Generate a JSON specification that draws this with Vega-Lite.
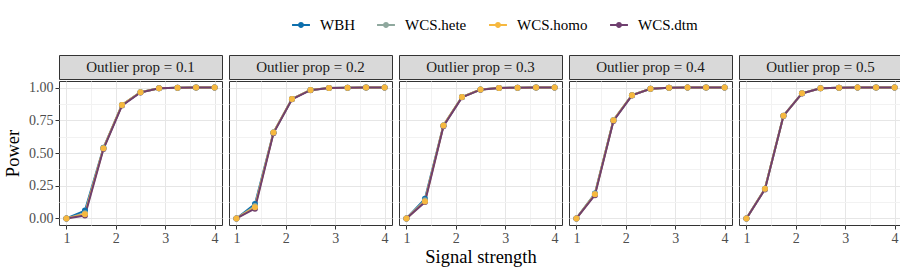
{
"$schema":"https://vega.github.io/schema/vega-lite/v6.json",
"padding":{"left":3,"top":16,"right":4,"bottom":4},
"background":"white",
"datasets":{
"strips":[{"prop":0.1,"label":"Outlier prop = 0.1"},{"prop":0.2,"label":"Outlier prop = 0.2"},{"prop":0.3,"label":"Outlier prop = 0.3"},{"prop":0.4,"label":"Outlier prop = 0.4"},{"prop":0.5,"label":"Outlier prop = 0.5"}],
"d":[
{"prop":0.1,"method":"WBH","signal":1,"power":0.0},{"prop":0.1,"method":"WBH","signal":1.375,"power":0.06},{"prop":0.1,"method":"WBH","signal":1.75,"power":0.54},{"prop":0.1,"method":"WBH","signal":2.125,"power":0.867},{"prop":0.1,"method":"WBH","signal":2.5,"power":0.964},{"prop":0.1,"method":"WBH","signal":2.875,"power":0.995},{"prop":0.1,"method":"WBH","signal":3.25,"power":0.998},{"prop":0.1,"method":"WBH","signal":3.625,"power":1.0},{"prop":0.1,"method":"WBH","signal":4,"power":1.0},
{"prop":0.1,"method":"WCS.hete","signal":1,"power":0.0},{"prop":0.1,"method":"WCS.hete","signal":1.375,"power":0.04},{"prop":0.1,"method":"WCS.hete","signal":1.75,"power":0.536},{"prop":0.1,"method":"WCS.hete","signal":2.125,"power":0.867},{"prop":0.1,"method":"WCS.hete","signal":2.5,"power":0.964},{"prop":0.1,"method":"WCS.hete","signal":2.875,"power":0.995},{"prop":0.1,"method":"WCS.hete","signal":3.25,"power":0.998},{"prop":0.1,"method":"WCS.hete","signal":3.625,"power":1.0},{"prop":0.1,"method":"WCS.hete","signal":4,"power":1.0},
{"prop":0.1,"method":"WCS.homo","signal":1,"power":0.0},{"prop":0.1,"method":"WCS.homo","signal":1.375,"power":0.033},{"prop":0.1,"method":"WCS.homo","signal":1.75,"power":0.536},{"prop":0.1,"method":"WCS.homo","signal":2.125,"power":0.867},{"prop":0.1,"method":"WCS.homo","signal":2.5,"power":0.964},{"prop":0.1,"method":"WCS.homo","signal":2.875,"power":0.995},{"prop":0.1,"method":"WCS.homo","signal":3.25,"power":0.998},{"prop":0.1,"method":"WCS.homo","signal":3.625,"power":1.0},{"prop":0.1,"method":"WCS.homo","signal":4,"power":1.0},
{"prop":0.1,"method":"WCS.dtm","signal":1,"power":0.0},{"prop":0.1,"method":"WCS.dtm","signal":1.375,"power":0.022},{"prop":0.1,"method":"WCS.dtm","signal":1.75,"power":0.53},{"prop":0.1,"method":"WCS.dtm","signal":2.125,"power":0.862},{"prop":0.1,"method":"WCS.dtm","signal":2.5,"power":0.962},{"prop":0.1,"method":"WCS.dtm","signal":2.875,"power":0.994},{"prop":0.1,"method":"WCS.dtm","signal":3.25,"power":0.998},{"prop":0.1,"method":"WCS.dtm","signal":3.625,"power":1.0},{"prop":0.1,"method":"WCS.dtm","signal":4,"power":1.0},
{"prop":0.2,"method":"WBH","signal":1,"power":0.0},{"prop":0.2,"method":"WBH","signal":1.375,"power":0.11},{"prop":0.2,"method":"WBH","signal":1.75,"power":0.656},{"prop":0.2,"method":"WBH","signal":2.125,"power":0.913},{"prop":0.2,"method":"WBH","signal":2.5,"power":0.982},{"prop":0.2,"method":"WBH","signal":2.875,"power":0.996},{"prop":0.2,"method":"WBH","signal":3.25,"power":0.999},{"prop":0.2,"method":"WBH","signal":3.625,"power":1.0},{"prop":0.2,"method":"WBH","signal":4,"power":1.0},
{"prop":0.2,"method":"WCS.hete","signal":1,"power":0.0},{"prop":0.2,"method":"WCS.hete","signal":1.375,"power":0.095},{"prop":0.2,"method":"WCS.hete","signal":1.75,"power":0.656},{"prop":0.2,"method":"WCS.hete","signal":2.125,"power":0.913},{"prop":0.2,"method":"WCS.hete","signal":2.5,"power":0.982},{"prop":0.2,"method":"WCS.hete","signal":2.875,"power":0.996},{"prop":0.2,"method":"WCS.hete","signal":3.25,"power":0.999},{"prop":0.2,"method":"WCS.hete","signal":3.625,"power":1.0},{"prop":0.2,"method":"WCS.hete","signal":4,"power":1.0},
{"prop":0.2,"method":"WCS.homo","signal":1,"power":0.0},{"prop":0.2,"method":"WCS.homo","signal":1.375,"power":0.085},{"prop":0.2,"method":"WCS.homo","signal":1.75,"power":0.656},{"prop":0.2,"method":"WCS.homo","signal":2.125,"power":0.913},{"prop":0.2,"method":"WCS.homo","signal":2.5,"power":0.982},{"prop":0.2,"method":"WCS.homo","signal":2.875,"power":0.996},{"prop":0.2,"method":"WCS.homo","signal":3.25,"power":0.999},{"prop":0.2,"method":"WCS.homo","signal":3.625,"power":1.0},{"prop":0.2,"method":"WCS.homo","signal":4,"power":1.0},
{"prop":0.2,"method":"WCS.dtm","signal":1,"power":0.0},{"prop":0.2,"method":"WCS.dtm","signal":1.375,"power":0.075},{"prop":0.2,"method":"WCS.dtm","signal":1.75,"power":0.65},{"prop":0.2,"method":"WCS.dtm","signal":2.125,"power":0.91},{"prop":0.2,"method":"WCS.dtm","signal":2.5,"power":0.98},{"prop":0.2,"method":"WCS.dtm","signal":2.875,"power":0.996},{"prop":0.2,"method":"WCS.dtm","signal":3.25,"power":0.999},{"prop":0.2,"method":"WCS.dtm","signal":3.625,"power":1.0},{"prop":0.2,"method":"WCS.dtm","signal":4,"power":1.0},
{"prop":0.3,"method":"WBH","signal":1,"power":0.0},{"prop":0.3,"method":"WBH","signal":1.375,"power":0.15},{"prop":0.3,"method":"WBH","signal":1.75,"power":0.71},{"prop":0.3,"method":"WBH","signal":2.125,"power":0.928},{"prop":0.3,"method":"WBH","signal":2.5,"power":0.985},{"prop":0.3,"method":"WBH","signal":2.875,"power":0.997},{"prop":0.3,"method":"WBH","signal":3.25,"power":0.999},{"prop":0.3,"method":"WBH","signal":3.625,"power":1.0},{"prop":0.3,"method":"WBH","signal":4,"power":1.0},
{"prop":0.3,"method":"WCS.hete","signal":1,"power":0.0},{"prop":0.3,"method":"WCS.hete","signal":1.375,"power":0.14},{"prop":0.3,"method":"WCS.hete","signal":1.75,"power":0.71},{"prop":0.3,"method":"WCS.hete","signal":2.125,"power":0.928},{"prop":0.3,"method":"WCS.hete","signal":2.5,"power":0.985},{"prop":0.3,"method":"WCS.hete","signal":2.875,"power":0.997},{"prop":0.3,"method":"WCS.hete","signal":3.25,"power":0.999},{"prop":0.3,"method":"WCS.hete","signal":3.625,"power":1.0},{"prop":0.3,"method":"WCS.hete","signal":4,"power":1.0},
{"prop":0.3,"method":"WCS.homo","signal":1,"power":0.0},{"prop":0.3,"method":"WCS.homo","signal":1.375,"power":0.13},{"prop":0.3,"method":"WCS.homo","signal":1.75,"power":0.71},{"prop":0.3,"method":"WCS.homo","signal":2.125,"power":0.928},{"prop":0.3,"method":"WCS.homo","signal":2.5,"power":0.985},{"prop":0.3,"method":"WCS.homo","signal":2.875,"power":0.997},{"prop":0.3,"method":"WCS.homo","signal":3.25,"power":0.999},{"prop":0.3,"method":"WCS.homo","signal":3.625,"power":1.0},{"prop":0.3,"method":"WCS.homo","signal":4,"power":1.0},
{"prop":0.3,"method":"WCS.dtm","signal":1,"power":0.0},{"prop":0.3,"method":"WCS.dtm","signal":1.375,"power":0.125},{"prop":0.3,"method":"WCS.dtm","signal":1.75,"power":0.705},{"prop":0.3,"method":"WCS.dtm","signal":2.125,"power":0.925},{"prop":0.3,"method":"WCS.dtm","signal":2.5,"power":0.984},{"prop":0.3,"method":"WCS.dtm","signal":2.875,"power":0.997},{"prop":0.3,"method":"WCS.dtm","signal":3.25,"power":0.999},{"prop":0.3,"method":"WCS.dtm","signal":3.625,"power":1.0},{"prop":0.3,"method":"WCS.dtm","signal":4,"power":1.0},
{"prop":0.4,"method":"WBH","signal":1,"power":0.0},{"prop":0.4,"method":"WBH","signal":1.375,"power":0.19},{"prop":0.4,"method":"WBH","signal":1.75,"power":0.75},{"prop":0.4,"method":"WBH","signal":2.125,"power":0.942},{"prop":0.4,"method":"WBH","signal":2.5,"power":0.99},{"prop":0.4,"method":"WBH","signal":2.875,"power":0.998},{"prop":0.4,"method":"WBH","signal":3.25,"power":1.0},{"prop":0.4,"method":"WBH","signal":3.625,"power":1.0},{"prop":0.4,"method":"WBH","signal":4,"power":1.0},
{"prop":0.4,"method":"WCS.hete","signal":1,"power":0.0},{"prop":0.4,"method":"WCS.hete","signal":1.375,"power":0.188},{"prop":0.4,"method":"WCS.hete","signal":1.75,"power":0.75},{"prop":0.4,"method":"WCS.hete","signal":2.125,"power":0.942},{"prop":0.4,"method":"WCS.hete","signal":2.5,"power":0.99},{"prop":0.4,"method":"WCS.hete","signal":2.875,"power":0.998},{"prop":0.4,"method":"WCS.hete","signal":3.25,"power":1.0},{"prop":0.4,"method":"WCS.hete","signal":3.625,"power":1.0},{"prop":0.4,"method":"WCS.hete","signal":4,"power":1.0},
{"prop":0.4,"method":"WCS.homo","signal":1,"power":0.0},{"prop":0.4,"method":"WCS.homo","signal":1.375,"power":0.185},{"prop":0.4,"method":"WCS.homo","signal":1.75,"power":0.75},{"prop":0.4,"method":"WCS.homo","signal":2.125,"power":0.942},{"prop":0.4,"method":"WCS.homo","signal":2.5,"power":0.99},{"prop":0.4,"method":"WCS.homo","signal":2.875,"power":0.998},{"prop":0.4,"method":"WCS.homo","signal":3.25,"power":1.0},{"prop":0.4,"method":"WCS.homo","signal":3.625,"power":1.0},{"prop":0.4,"method":"WCS.homo","signal":4,"power":1.0},
{"prop":0.4,"method":"WCS.dtm","signal":1,"power":0.0},{"prop":0.4,"method":"WCS.dtm","signal":1.375,"power":0.178},{"prop":0.4,"method":"WCS.dtm","signal":1.75,"power":0.745},{"prop":0.4,"method":"WCS.dtm","signal":2.125,"power":0.94},{"prop":0.4,"method":"WCS.dtm","signal":2.5,"power":0.99},{"prop":0.4,"method":"WCS.dtm","signal":2.875,"power":0.998},{"prop":0.4,"method":"WCS.dtm","signal":3.25,"power":1.0},{"prop":0.4,"method":"WCS.dtm","signal":3.625,"power":1.0},{"prop":0.4,"method":"WCS.dtm","signal":4,"power":1.0},
{"prop":0.5,"method":"WBH","signal":1,"power":0.0},{"prop":0.5,"method":"WBH","signal":1.375,"power":0.226},{"prop":0.5,"method":"WBH","signal":1.75,"power":0.785},{"prop":0.5,"method":"WBH","signal":2.125,"power":0.956},{"prop":0.5,"method":"WBH","signal":2.5,"power":0.995},{"prop":0.5,"method":"WBH","signal":2.875,"power":0.999},{"prop":0.5,"method":"WBH","signal":3.25,"power":1.0},{"prop":0.5,"method":"WBH","signal":3.625,"power":1.0},{"prop":0.5,"method":"WBH","signal":4,"power":1.0},
{"prop":0.5,"method":"WCS.hete","signal":1,"power":0.0},{"prop":0.5,"method":"WCS.hete","signal":1.375,"power":0.226},{"prop":0.5,"method":"WCS.hete","signal":1.75,"power":0.785},{"prop":0.5,"method":"WCS.hete","signal":2.125,"power":0.956},{"prop":0.5,"method":"WCS.hete","signal":2.5,"power":0.995},{"prop":0.5,"method":"WCS.hete","signal":2.875,"power":0.999},{"prop":0.5,"method":"WCS.hete","signal":3.25,"power":1.0},{"prop":0.5,"method":"WCS.hete","signal":3.625,"power":1.0},{"prop":0.5,"method":"WCS.hete","signal":4,"power":1.0},
{"prop":0.5,"method":"WCS.homo","signal":1,"power":0.0},{"prop":0.5,"method":"WCS.homo","signal":1.375,"power":0.226},{"prop":0.5,"method":"WCS.homo","signal":1.75,"power":0.785},{"prop":0.5,"method":"WCS.homo","signal":2.125,"power":0.956},{"prop":0.5,"method":"WCS.homo","signal":2.5,"power":0.995},{"prop":0.5,"method":"WCS.homo","signal":2.875,"power":0.999},{"prop":0.5,"method":"WCS.homo","signal":3.25,"power":1.0},{"prop":0.5,"method":"WCS.homo","signal":3.625,"power":1.0},{"prop":0.5,"method":"WCS.homo","signal":4,"power":1.0},
{"prop":0.5,"method":"WCS.dtm","signal":1,"power":0.0},{"prop":0.5,"method":"WCS.dtm","signal":1.375,"power":0.222},{"prop":0.5,"method":"WCS.dtm","signal":1.75,"power":0.783},{"prop":0.5,"method":"WCS.dtm","signal":2.125,"power":0.955},{"prop":0.5,"method":"WCS.dtm","signal":2.5,"power":0.995},{"prop":0.5,"method":"WCS.dtm","signal":2.875,"power":0.999},{"prop":0.5,"method":"WCS.dtm","signal":3.25,"power":1.0},{"prop":0.5,"method":"WCS.dtm","signal":3.625,"power":1.0},{"prop":0.5,"method":"WCS.dtm","signal":4,"power":1.0}
]},
"spacing":5,
"hconcat":[
{"spacing":0,"vconcat":[
 {"width":163,"height":24,"data":{"name":"strips"},"transform":[{"filter":"datum.prop == 0.1"}],"view":{"fill":"#d9d9d9","stroke":"#333333","strokeWidth":1},"mark":{"type":"text","font":"Liberation Serif","fontSize":15,"color":"#1a1a1a","baseline":"middle"},"encoding":{"text":{"field":"label"}}},
 {"width":163,"height":144,"data":{"name":"d"},"transform":[{"filter":"datum.prop == 0.1"}],
  "encoding":{
   "x":{"field":"signal","type":"quantitative","scale":{"domain":[0.85,4.15],"nice":false,"zero":false},"axis":{"title":null}},
   "y":{"field":"power","type":"quantitative","scale":{"domain":[-0.05,1.05],"nice":false,"zero":false},"axis":{"title":"Power","values":[0,0.125,0.25,0.375,0.5,0.625,0.75,0.875,1],"labelExpr":"(datum.value*4) % 1 == 0 ? format(datum.value,'.2f') : ''","tickSize":{"condition":{"test":"(datum.value*4) % 1 == 0","value":4},"value":0},"gridColor":{"condition":{"test":"(datum.value*4) % 1 == 0","value":"#e6e6e6"},"value":"#f2f2f2"}}},
   "color":{"field":"method","type":"nominal","scale":{"domain":["WBH","WCS.hete","WCS.homo","WCS.dtm"],"range":["#0d6fad","#8fa89e","#f6b83f","#6f3f6f"]}}},
  "layer":[
   {"mark":{"type":"line","strokeWidth":2}},
   {"mark":{"type":"point","filled":true,"size":36,"opacity":1},"encoding":{"order":{"field":"method","sort":"ascending"}}}
  ]}
]},
{"spacing":0,"vconcat":[
 {"width":163,"height":24,"data":{"name":"strips"},"transform":[{"filter":"datum.prop == 0.2"}],"view":{"fill":"#d9d9d9","stroke":"#333333","strokeWidth":1},"mark":{"type":"text","font":"Liberation Serif","fontSize":15,"color":"#1a1a1a","baseline":"middle"},"encoding":{"text":{"field":"label"}}},
 {"width":163,"height":144,"data":{"name":"d"},"transform":[{"filter":"datum.prop == 0.2"}],
  "encoding":{
   "x":{"field":"signal","type":"quantitative","scale":{"domain":[0.85,4.15],"nice":false,"zero":false},"axis":{"title":null}},
   "y":{"field":"power","type":"quantitative","scale":{"domain":[-0.05,1.05],"nice":false,"zero":false},"axis":{"title":null,"labels":false,"ticks":false,"values":[0,0.125,0.25,0.375,0.5,0.625,0.75,0.875,1],"gridColor":{"condition":{"test":"(datum.value*4) % 1 == 0","value":"#e6e6e6"},"value":"#f2f2f2"}}},
   "color":{"field":"method","type":"nominal","scale":{"domain":["WBH","WCS.hete","WCS.homo","WCS.dtm"],"range":["#0d6fad","#8fa89e","#f6b83f","#6f3f6f"]}}},
  "layer":[
   {"mark":{"type":"line","strokeWidth":2}},
   {"mark":{"type":"point","filled":true,"size":36,"opacity":1},"encoding":{"order":{"field":"method","sort":"ascending"}}}
  ]}
]},
{"spacing":0,"vconcat":[
 {"width":163,"height":24,"data":{"name":"strips"},"transform":[{"filter":"datum.prop == 0.3"}],"view":{"fill":"#d9d9d9","stroke":"#333333","strokeWidth":1},"mark":{"type":"text","font":"Liberation Serif","fontSize":15,"color":"#1a1a1a","baseline":"middle"},"encoding":{"text":{"field":"label"}}},
 {"width":163,"height":144,"data":{"name":"d"},"transform":[{"filter":"datum.prop == 0.3"}],
  "encoding":{
   "x":{"field":"signal","type":"quantitative","scale":{"domain":[0.85,4.15],"nice":false,"zero":false},"axis":{"title":"Signal strength"}},
   "y":{"field":"power","type":"quantitative","scale":{"domain":[-0.05,1.05],"nice":false,"zero":false},"axis":{"title":null,"labels":false,"ticks":false,"values":[0,0.125,0.25,0.375,0.5,0.625,0.75,0.875,1],"gridColor":{"condition":{"test":"(datum.value*4) % 1 == 0","value":"#e6e6e6"},"value":"#f2f2f2"}}},
   "color":{"field":"method","type":"nominal","scale":{"domain":["WBH","WCS.hete","WCS.homo","WCS.dtm"],"range":["#0d6fad","#8fa89e","#f6b83f","#6f3f6f"]}}},
  "layer":[
   {"mark":{"type":"line","strokeWidth":2}},
   {"mark":{"type":"point","filled":true,"size":36,"opacity":1},"encoding":{"order":{"field":"method","sort":"ascending"}}}
  ]}
]},
{"spacing":0,"vconcat":[
 {"width":163,"height":24,"data":{"name":"strips"},"transform":[{"filter":"datum.prop == 0.4"}],"view":{"fill":"#d9d9d9","stroke":"#333333","strokeWidth":1},"mark":{"type":"text","font":"Liberation Serif","fontSize":15,"color":"#1a1a1a","baseline":"middle"},"encoding":{"text":{"field":"label"}}},
 {"width":163,"height":144,"data":{"name":"d"},"transform":[{"filter":"datum.prop == 0.4"}],
  "encoding":{
   "x":{"field":"signal","type":"quantitative","scale":{"domain":[0.85,4.15],"nice":false,"zero":false},"axis":{"title":null}},
   "y":{"field":"power","type":"quantitative","scale":{"domain":[-0.05,1.05],"nice":false,"zero":false},"axis":{"title":null,"labels":false,"ticks":false,"values":[0,0.125,0.25,0.375,0.5,0.625,0.75,0.875,1],"gridColor":{"condition":{"test":"(datum.value*4) % 1 == 0","value":"#e6e6e6"},"value":"#f2f2f2"}}},
   "color":{"field":"method","type":"nominal","scale":{"domain":["WBH","WCS.hete","WCS.homo","WCS.dtm"],"range":["#0d6fad","#8fa89e","#f6b83f","#6f3f6f"]}}},
  "layer":[
   {"mark":{"type":"line","strokeWidth":2}},
   {"mark":{"type":"point","filled":true,"size":36,"opacity":1},"encoding":{"order":{"field":"method","sort":"ascending"}}}
  ]}
]},
{"spacing":0,"vconcat":[
 {"width":163,"height":24,"data":{"name":"strips"},"transform":[{"filter":"datum.prop == 0.5"}],"view":{"fill":"#d9d9d9","stroke":"#333333","strokeWidth":1},"mark":{"type":"text","font":"Liberation Serif","fontSize":15,"color":"#1a1a1a","baseline":"middle"},"encoding":{"text":{"field":"label"}}},
 {"width":163,"height":144,"data":{"name":"d"},"transform":[{"filter":"datum.prop == 0.5"}],
  "encoding":{
   "x":{"field":"signal","type":"quantitative","scale":{"domain":[0.85,4.15],"nice":false,"zero":false},"axis":{"title":null}},
   "y":{"field":"power","type":"quantitative","scale":{"domain":[-0.05,1.05],"nice":false,"zero":false},"axis":{"title":null,"labels":false,"ticks":false,"values":[0,0.125,0.25,0.375,0.5,0.625,0.75,0.875,1],"gridColor":{"condition":{"test":"(datum.value*4) % 1 == 0","value":"#e6e6e6"},"value":"#f2f2f2"}}},
   "color":{"field":"method","type":"nominal","scale":{"domain":["WBH","WCS.hete","WCS.homo","WCS.dtm"],"range":["#0d6fad","#8fa89e","#f6b83f","#6f3f6f"]}}},
  "layer":[
   {"mark":{"type":"line","strokeWidth":2}},
   {"mark":{"type":"point","filled":true,"size":36,"opacity":1},"encoding":{"order":{"field":"method","sort":"ascending"}}}
  ]}
]}
],
"resolve":{"scale":{"color":"shared"}},
"config":{
 "font":"Liberation Serif",
 "view":{"stroke":"#333333","strokeWidth":1},
 "axis":{"domain":false,"labelFont":"Liberation Serif","labelFontSize":14,"labelColor":"#4d4d4d","tickColor":"#333333","titleFont":"Liberation Serif","titleFontSize":18.5,"titleFontWeight":"normal","titleColor":"#000000","gridWidth":1,"labelPadding":2},
 "axisX":{"values":[1,1.5,2,2.5,3,3.5,4],"labelExpr":"datum.value % 1 == 0 ? format(datum.value,'d') : ''","tickSize":{"condition":{"test":"datum.value % 1 == 0","value":4},"value":0},"gridColor":{"condition":{"test":"datum.value % 1 == 0","value":"#e6e6e6"},"value":"#f2f2f2"},"titlePadding":2},
 "axisY":{"titlePadding":6},
 "legend":{"orient":"none","legendX":233,"legendY":-39,"direction":"horizontal","title":null,"labelFont":"Liberation Serif","labelFontSize":15,"labelColor":"#000000","symbolType":"M-1,-0.11H1V0.11H-1Z M0.33,0 A0.33,0.33 0 1,1 -0.33,0 A0.33,0.33 0 1,1 0.33,0 Z","symbolSize":320,"symbolStrokeWidth":0,"columnPadding":22,"labelOffset":10}
}
}
